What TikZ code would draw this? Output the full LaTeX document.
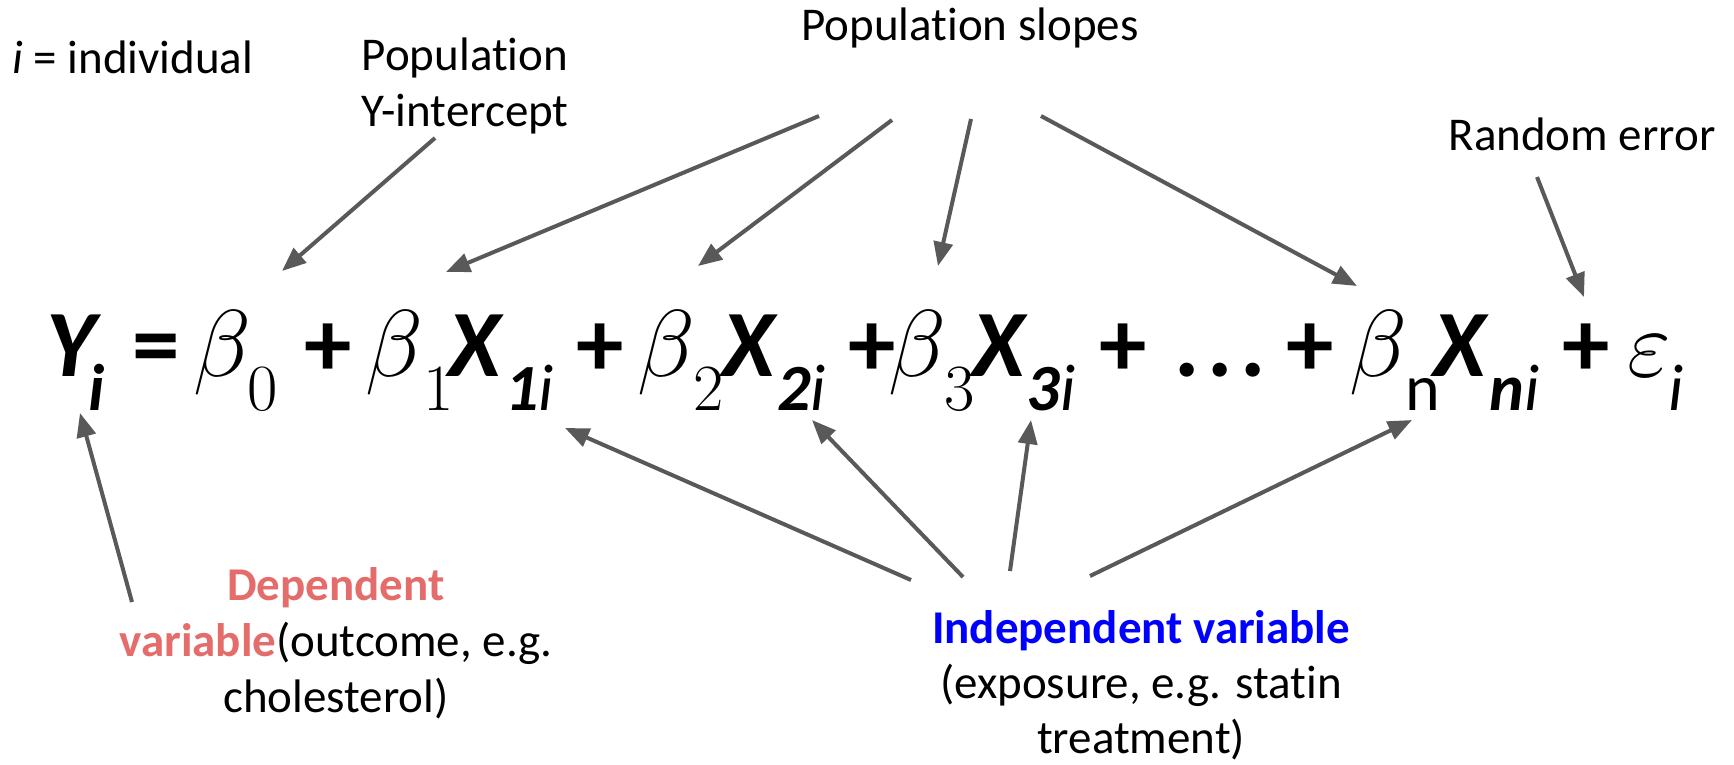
\RequirePackage{fix-cm}
\documentclass[tikz,border=0pt]{standalone}
\usepackage{fontspec}
\setmainfont{Carlito}[Ligatures=NoCommon]
\usetikzlibrary{arrows.meta}
\definecolor{pointer}{HTML}{595959}
\definecolor{depred}{HTML}{E46C6A}
\definecolor{indblue}{HTML}{0000FF}
\newcommand{\lblsize}{\fontsize{47}{56}\selectfont}
\newcommand{\eqsize}{\fontsize{95}{100}\selectfont}
\newcommand{\subsize}{\fontsize{66}{66}\selectfont}
\tikzset{>={Triangle[length=24pt,width=19pt]},arr/.style={->,line width=4pt,pointer},lbl/.style={font=\lblsize,align=center,inner sep=0pt,anchor=base},eq/.style={font=\eqsize,inner sep=0pt,anchor=base west},sub/.style={font=\subsize,inner sep=0pt,anchor=base west}}

\begin{document}
\begin{tikzpicture}[x=1pt,y=-1pt]
\useasboundingbox (0,0) rectangle (1734,764);
% the model
\node[eq] (Y) at (46,376) {\bfseries\itshape Y};
\node[sub] (Ys) at (88,410) {\bfseries\itshape i};
\node[eq] (eqs) at (132,376) {\bfseries =};
\foreach \x in {304,576,848,1099,1286,1562}{\node[eq] (plus\x) at (\x,376) {\bfseries +};}
\foreach \x/\s in {193/0,365/1,637/2,888/3}{\node[eq] (b\s) at (\x,376) {$\beta$};}
\foreach \x/\s in {247/0,423/1,693/2,944/3}{\node[sub] (bs\s) at (\x,410) {$\s$};}
\foreach \x/\s in {448/1,722/2,972/3}{\node[eq] (X\s) at (\x,376) {\bfseries\itshape X};}
\foreach \x/\s in {505/1,777/2,1026/3}{\node[sub] (Xs\s) at (\x,410) {\textbf{\textit{\s}}\textit{i}};}
\node[eq] (dots) at (1174,376) {\bfseries .\kern8pt.\kern8pt.};
\node[eq] (bn) at (1349,376) {$\beta$};
\node[sub] (bsn) at (1405,410) {n};
\node[eq] (Xn) at (1433,376) {\bfseries\itshape X};
\node[sub] (Xsn) at (1489,410) {\textbf{\textit{n}}\textit{i}};
\node[eq] (eps) at (1627,376) {$\varepsilon$};
\node[sub] (epss) at (1668,410) {\textit{i}};
% labels (base = last line)
\node[lbl,anchor=base west] (indiv) at (12,73) {\textit{i} = individual};
\node[lbl] (icpt) at (465,126) {Population\\Y-intercept};
\node[lbl] (slopes) at (970,40) {Population slopes};
\node[lbl] (err) at (1582,150) {Random error};
\node[lbl] (dep) at (336,712) {\textcolor{depred}{\bfseries Dependent}\\\textcolor{depred}{\bfseries variable}(outcome, e.g.\\cholesterol)};
\node[lbl,font=\fontsize{47}{55}\selectfont] (indep) at (1141,753) {\textcolor{indblue}{\bfseries Independent variable}\\(exposure, e.g. statin\\treatment)};
% arrows
\coordinate (icpt0) at (435,138); \coordinate (icpt1) at (282,271);
\coordinate (err0) at (1537,177); \coordinate (err1) at (1584,297);
\coordinate (dep0) at (132,602); \coordinate (dep1) at (80,413);
\draw[arr] (icpt0) -- (icpt1);
\draw[arr] (err0) -- (err1);
\draw[arr] (dep0) -- (dep1);
\foreach \a/\b/\c/\d [count=\k] in {819/116/446/272,892/120/698/266,971/119/938/266,1041/116/1357/286}{
  \coordinate (sl\k) at (\a,\b); \coordinate (slt\k) at (\c,\d);
  \draw[arr] (sl\k) -- (slt\k);}
\foreach \a/\b/\c/\d [count=\k] in {911/580/565/428,963/577/812/420,1010/571/1031/420,1090/576/1412/420}{
  \coordinate (iv\k) at (\a,\b); \coordinate (ivt\k) at (\c,\d);
  \draw[arr] (iv\k) -- (ivt\k);}
\end{tikzpicture}
\end{document}
